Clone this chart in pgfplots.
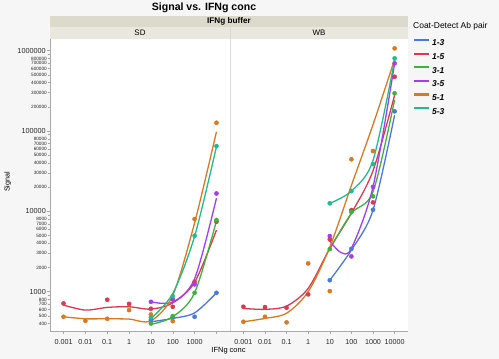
\documentclass[border=0pt]{standalone}
\usepackage{pgfplots}
\pgfplotsset{compat=1.18}
\usepackage{fontspec}
\setmainfont{Liberation Sans}
\definecolor{c13}{HTML}{4A78E0}
\definecolor{c15}{HTML}{D93A50}
\definecolor{c31}{HTML}{3DB33D}
\definecolor{c35}{HTML}{A43EEA}
\definecolor{c51}{HTML}{D97A20}
\definecolor{c53}{HTML}{20BC8C}
\definecolor{bg}{HTML}{F6F6F6}
\definecolor{hdrA}{HTML}{DCDACC}
\definecolor{hdrB}{HTML}{E9E8DF}
\definecolor{axgray}{HTML}{A8A8A8}
\begin{document}
\begin{tikzpicture}
\fill[bg] (0,0) rectangle (499bp,359bp);
\fill[hdrA] (50bp,320bp) rectangle (408bp,343.3bp);
\fill[hdrB] (50bp,320bp) rectangle (408bp,332bp);
% SD panel
\begin{axis}[scale only axis, height=292bp, width=180bp,
  at={(50bp,28bp)}, anchor=south west,
  xmode=log, ymode=log,
  xmin=0.00024, xmax=41687, ymin=324, ymax=1400000,
  xminorticks=false, yminorticks=false,
  axis background/.style={fill=white},
  axis x line*=bottom, axis y line*=left,
  axis line style={axgray, line width=0.6bp},
  tick style={axgray, line width=0.5bp},
  tick align=outside, major tick length=3bp,
  xtick={0.001,0.01,0.1,1,10,100,1000,10000},
  xticklabels={0.001,0.01,0.1,1,10,100,1000,{}},
  xticklabel style={font=\fontsize{7.2}{8}\selectfont, text=black!85, inner sep=1bp, yshift=-4.5bp},
  yticklabel style={font=\fontsize{7.3}{8}\selectfont, text=black!85, inner sep=1bp},
  ytick={1000,10000,100000,1000000},
  yticklabels={1000,10000,100000,1000000},
  extra y ticks={400,500,600,700,800,900,2000,3000,4000,5000,6000,7000,8000,9000,20000,30000,40000,50000,60000,70000,80000,90000,200000,300000,400000,500000,600000,700000,800000,900000},
  extra y tick labels={400,500,600,700,800,{},2000,3000,4000,5000,6000,7000,8000,{},20000,30000,40000,50000,60000,70000,80000,{},200000,300000,400000,500000,600000,700000,800000,{}},
  extra y tick style={yticklabel style={font=\fontsize{4.7}{5}\selectfont}, major tick length=2bp},
]
\addplot[c13, smooth, no marks, line width=1.3bp, forget plot] coordinates {(10,422) (100,465) (1000,545) (10000,968)};
\addplot[c15, smooth, no marks, line width=1.3bp, forget plot] coordinates {(0.001,681) (0.01,590) (0.1,637) (1,649) (10,607) (100,725) (1000,1310) (10000,5850)};
\addplot[c31, smooth, no marks, line width=1.3bp, forget plot] coordinates {(10,392) (100,487) (1000,968) (10000,7630)};
\addplot[c35, smooth, no marks, line width=1.3bp, forget plot] coordinates {(10,748) (100,743) (1000,1450) (10000,14600)};
\addplot[c51, smooth, no marks, line width=1.3bp, forget plot] coordinates {(0.001,487) (0.01,460) (0.1,460) (1,456) (10,434) (100,900) (1000,7200) (10000,98000)};
\addplot[c53, smooth, no marks, line width=1.3bp, forget plot] coordinates {(10,463) (100,950) (1000,4900) (10000,64000)};
\addplot[c13, only marks, mark=*, mark size=2.1bp, forget plot] coordinates {(10,443) (100,480) (1000,487) (10000,968)};
\addplot[c15, only marks, mark=*, mark size=2.1bp, forget plot] coordinates {(0.001,715) (0.1,793) (1,705) (10,613) (100,649) (1000,1327) (10000,7430)};
\addplot[c31, only marks, mark=*, mark size=2.1bp, forget plot] coordinates {(10,402) (100,497) (1000,968) (10000,7800)};
\addplot[c35, only marks, mark=*, mark size=2.1bp, forget plot] coordinates {(10,748) (100,801) (1000,1233) (10000,16700)};
\addplot[c51, only marks, mark=*, mark size=2.1bp, forget plot] coordinates {(0.001,487) (0.01,434) (0.1,460) (1,590) (10,521) (100,430) (1000,8020) (10000,126800)};
\addplot[c53, only marks, mark=*, mark size=2.1bp, forget plot] coordinates {(10,478) (100,880) (1000,4970) (10000,65000)};
\end{axis}
% WB panel
\begin{axis}[scale only axis, height=292bp, width=178bp,
  at={(230bp,28bp)}, anchor=south west,
  xmode=log, ymode=log,
  xmin=0.00024, xmax=41687, ymin=324, ymax=1400000,
  xminorticks=false, yminorticks=false,
  axis background/.style={fill=white},
  axis x line*=bottom, axis y line=none, ytick=\empty,
  axis line style={axgray, line width=0.6bp},
  tick style={axgray, line width=0.5bp},
  tick align=outside, major tick length=3bp,
  xtick={0.001,0.01,0.1,1,10,100,1000,10000},
  xticklabels={0.001,0.01,0.1,1,10,100,1000,10000},
  xticklabel style={font=\fontsize{7.2}{8}\selectfont, text=black!85, inner sep=1bp, yshift=-4.5bp},
  legend style={at={(1.0298,1.0003)}, anchor=north west, draw=none, fill=none,
    inner sep=0pt, outer sep=0pt,
    font=\bfseries\itshape\fontsize{8.5}{10}\selectfont,
    nodes={inner sep=0pt, text height=6.1bp, text depth=0bp},
    row sep=6.6bp, column sep=1.7bp},
  legend cell align=left,
  legend image code/.code={\draw[line width=2.2bp] (0bp,2.9bp) -- (15bp,2.9bp);},
]
\addplot[c13, smooth, no marks, line width=1.3bp, forget plot] coordinates {(10,1390) (100,3300) (1000,10370) (10000,158000)};
\addplot[c15, smooth, no marks, line width=1.3bp, forget plot] coordinates {(0.001,619) (0.01,603) (0.1,662) (1,1100) (10,3450) (100,9500) (1000,32000) (10000,280000)};
\addplot[c31, smooth, no marks, line width=1.3bp, forget plot] coordinates {(10,3390) (100,9450) (1000,17500) (10000,245000)};
\addplot[c35, smooth, no marks, line width=1.3bp, forget plot] coordinates {(10,4270) (31.6,3100) (100,3470) (1000,20200) (10000,696000)};
\addplot[c51, smooth, no marks, line width=1.3bp, forget plot] coordinates {(0.001,422) (0.01,465) (0.1,540) (1,1000) (10,3600) (100,21000) (1000,120000) (10000,780000)};
\addplot[c53, smooth, no marks, line width=1.3bp, forget plot] coordinates {(10,12600) (100,17900) (1000,43000) (10000,765000)};
\addplot[c13, only marks, mark=*, mark size=2.1bp, forget plot] coordinates {(10,1390) (100,3420) (1000,10470) (10000,176000)};
\addplot[c15, only marks, mark=*, mark size=2.1bp, forget plot] coordinates {(0.001,649) (0.01,643) (0.1,631) (1,927) (10,4480) (100,10370) (1000,12940) (10000,474000)};
\addplot[c31, only marks, mark=*, mark size=2.1bp, forget plot] coordinates {(10,3390) (100,9800) (1000,15400) (10000,295000)};
\addplot[c35, only marks, mark=*, mark size=2.1bp, forget plot] coordinates {(10,4920) (100,2750) (1000,20200) (10000,696000)};
\addplot[c51, only marks, mark=*, mark size=2.1bp, forget plot] coordinates {(0.001,422) (0.01,487) (0.1,415) (1,2250) (10,1016) (100,44500) (1000,56400) (10000,1070000)};
\addplot[c53, only marks, mark=*, mark size=2.1bp, forget plot] coordinates {(10,12600) (100,17900) (1000,38800) (10000,803000)};
\addlegendimage{c13}\addlegendentry{1-3}
\addlegendimage{c15}\addlegendentry{1-5}
\addlegendimage{c31}\addlegendentry{3-1}
\addlegendimage{c35}\addlegendentry{3-5}
\addlegendimage{c51}\addlegendentry{5-1}
\addlegendimage{c53}\addlegendentry{5-3}
\end{axis}
\draw[black!15, line width=0.8bp] (230bp,28bp) -- (230bp,332bp);
\node[font=\bfseries\fontsize{10.6}{12}\selectfont] at (204bp,351.5bp) {Signal vs. IFNg conc};
\node[font=\bfseries\fontsize{8.2}{9}\selectfont, inner sep=0pt] at (229bp,337.6bp) {IFNg buffer};
\node[font=\fontsize{8}{9}\selectfont, inner sep=0pt] at (140bp,326bp) {SD};
\node[font=\fontsize{8}{9}\selectfont, inner sep=0pt] at (319bp,326bp) {WB};
\node[font=\fontsize{7.5}{9}\selectfont, inner sep=0pt] at (228.5bp,8bp) {IFNg conc};
\node[font=\fontsize{7.2}{9}\selectfont, inner sep=0pt, rotate=90] at (7.7bp,177bp) {Signal};
\node[font=\fontsize{8.5}{10}\selectfont, inner sep=0pt, anchor=west] at (413bp,333bp) {Coat-Detect Ab pair};
\pgfresetboundingbox
\path (0,0) rectangle (499bp,359bp);
\end{tikzpicture}
\end{document}
